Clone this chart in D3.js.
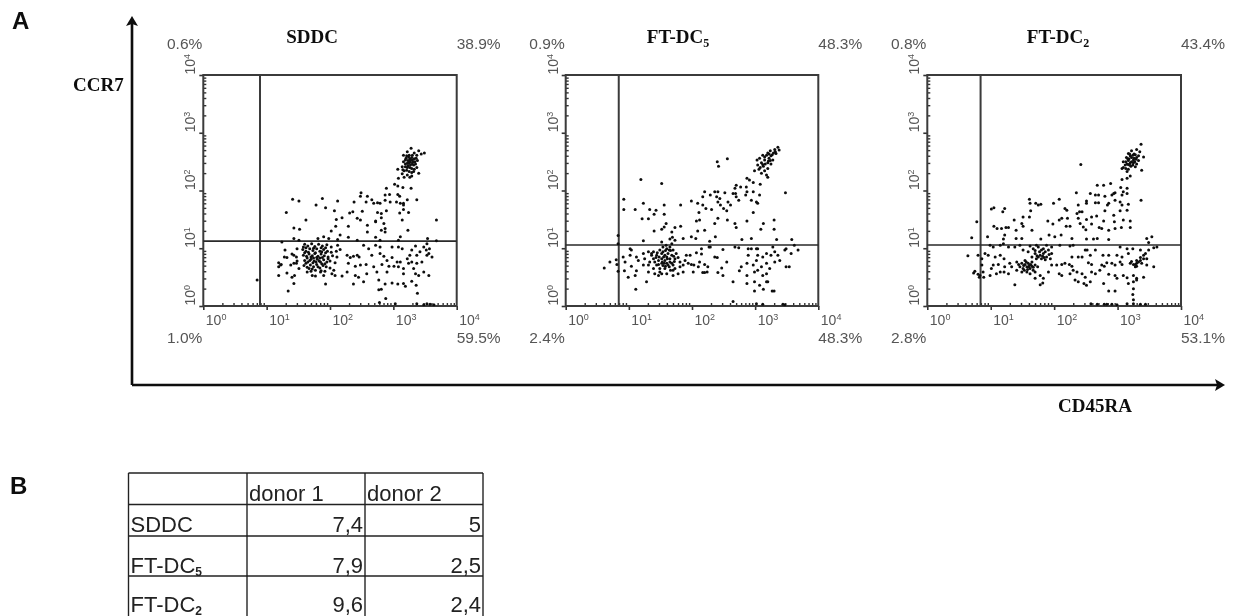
<!DOCTYPE html>
<html>
<head>
<meta charset="utf-8">
<script src="https://cdn.jsdelivr.net/npm/d3@7"></script>
<style>
    html, body { margin: 0; padding: 0; background: #fff; overflow: hidden; }
    svg { display: block; }
    .pct { font: 15.5px "Liberation Sans", sans-serif; fill: #555; }
    .tickText { font: 14px "Liberation Sans", sans-serif; fill: #555; }
    .title { font: bold 19px "Liberation Serif", serif; fill: #111; }
    .panelLetter { font: bold 24px "Liberation Sans", sans-serif; fill: #111; }
    .cell { font: 22px "Liberation Sans", sans-serif; fill: #222; }
</style>
</head>
<body>
<svg id="chart" width="1233" height="616"></svg>
<script>
// Every event is [log10 CD45RA, log10 CCR7]
const sddcEvents = [
    [3.28,2.73],[3.40,2.69],[3.49,2.65],[3.22,2.67],[3.33,2.65],[3.16,2.61],[3.25,2.61],[3.37,2.61],[3.44,2.63],[3.20,2.56],
    [3.29,2.57],[3.36,2.56],[3.16,2.50],[3.23,2.52],[3.31,2.50],[3.38,2.52],[3.19,2.46],[3.27,2.44],[3.35,2.46],[3.14,2.41],
    [3.22,2.40],[3.29,2.38],[3.37,2.40],[3.07,2.37],[3.17,2.34],[3.25,2.33],[3.32,2.33],[3.40,2.30],[3.14,2.29],[3.22,2.27],
    [3.29,2.25],[3.08,2.21],[3.17,2.23],[3.26,2.23],[3.24,2.58],[3.27,2.53],[3.32,2.44],[3.22,2.47],
    [3.21,2.60],[3.30,2.61],[3.26,2.55],[3.33,2.55],[3.19,2.53],[3.27,2.49],[3.34,2.50],[3.24,2.47],[3.30,2.46],[3.19,2.41],
    [3.26,2.40],[3.33,2.37],[3.21,2.35],[3.29,2.31],[3.15,2.36],[3.23,2.43],[3.30,2.53],[3.25,2.51],
    [2.49,1.96],[2.59,1.90],[2.48,1.90],[2.66,1.84],[2.38,1.80],[2.57,1.80],[2.69,1.78],[2.75,1.79],[2.79,1.78],[2.87,1.83],
    [2.95,1.80],[3.05,1.80],[3.11,1.78],[3.16,1.78],[3.22,1.84],[3.37,1.84],[2.89,2.04],[3.02,2.11],[3.07,2.08],[3.15,2.05],
    [3.28,2.04],[2.87,1.92],[2.94,1.93],[3.07,1.93],[3.10,1.90],[3.16,1.75],[1.41,1.85],[1.51,1.82],[1.88,1.86],[2.12,1.82],
    [1.78,1.75],[1.93,1.70],[1.31,1.62],[2.07,1.65],[2.31,1.61],[2.36,1.63],[2.51,1.64],[2.75,1.62],[2.81,1.60],[2.89,1.65],
    [3.10,1.61],[3.16,1.67],[3.24,1.62],[1.62,1.49],[2.10,1.50],[2.19,1.53],[2.43,1.52],[2.48,1.49],[2.72,1.46],[2.81,1.53],
    [2.85,1.43],[3.14,1.49],[3.68,1.49],[2.29,1.38],[2.59,1.40],[2.72,1.47],[2.87,1.34],[1.43,1.35],[1.52,1.33],[2.09,1.38],
    [2.02,1.30],[2.59,1.28],[2.81,1.31],[2.87,1.28],[3.23,1.31],[3.11,1.20],[1.43,1.17],[1.51,1.14],[1.81,1.17],[1.90,1.20],
    [1.98,1.17],[2.16,1.23],[2.12,1.15],[2.29,1.19],[2.43,1.14],[2.72,1.19],[2.79,1.14],[3.08,1.14],[3.54,1.17],[3.68,1.13],
    [1.24,1.11],[3.53,1.08],
    [1.19,.75],[1.23,.72],[1.19,.68],[1.22,.71],[1.29,.97],[1.28,.85],[1.32,.84],[1.40,.90],[1.43,.88],[1.47,.85],
    [1.38,.71],[1.43,.74],[1.48,.78],[1.47,.74],[1.19,.53],[1.32,.57],[1.40,.50],[1.44,.53],[1.43,.39],[1.34,.26],
    [1.51,.65],[1.64,.59],[1.72,.53],[1.77,.52],[1.85,.59],[1.93,.38],[1.90,.53],[2.03,.56],[2.08,.53],[2.19,.52],
    [1.58,1.02],[1.48,.99],[.85,.45],
    [1.60,1.07],[1.65,1.04],[1.71,1.08],[1.76,1.03],[1.82,1.07],[1.88,1.04],[1.95,1.06],[2.02,1.02],[2.12,1.05],[2.16,.98],
    [1.57,.98],[1.62,.95],[1.68,.99],[1.73,.96],[1.79,.99],[1.84,.95],[1.90,.98],[1.96,.95],[2.02,.93],[2.10,.95],
    [1.58,.88],[1.63,.86],[1.67,.90],[1.72,.87],[1.76,.91],[1.81,.86],[1.86,.90],[1.91,.87],[1.97,.85],[2.04,.87],[2.11,.85],
    [1.60,.79],[1.65,.76],[1.70,.81],[1.75,.78],[1.80,.81],[1.85,.76],[1.90,.80],[1.95,.76],[2.00,.78],[2.08,.75],
    [1.59,.70],[1.64,.67],[1.69,.71],[1.74,.68],[1.79,.72],[1.84,.66],[1.89,.70],[1.94,.68],[2.00,.66],
    [1.70,.60],[1.77,.62],[1.86,.61],[1.92,.60],[2.06,.62],
    [1.62,1.01],[1.74,1.00],[1.86,1.01],[1.93,1.01],[1.66,.93],[1.77,.92],[1.87,.94],[1.93,.92],[1.60,.92],[1.70,.85],
    [1.74,.83],[1.79,.84],[1.84,.83],[1.88,.84],[1.64,.83],[1.68,.79],[1.73,.75],[1.78,.76],[1.83,.78],[1.87,.73],
    [1.62,.74],[1.72,.64],[1.81,.68],[1.67,.65],[1.92,.73],[1.97,.82],
    [2.27,.88],[2.32,.84],[2.37,.86],[2.43,.88],[2.46,.85],[2.29,.74],[2.40,.69],[2.48,.71],[2.27,.59],[2.40,.53],
    [2.45,.50],[2.37,.38],[2.53,.42],[2.58,.56],[2.57,.72],[2.69,.68],[2.53,1.05],[2.61,.99],[2.66,.88],[2.79,.91],
    [2.85,.86],[2.90,.79],[2.82,.72],[2.98,.84],[3.06,.76],[3.11,.76],[3.01,.69],[3.08,.68],[3.16,.65],[2.93,.69],
    [2.90,.59],[2.74,.59],[2.77,.45],[2.87,.38],[2.98,.40],[3.07,.38],[3.16,.39],[3.19,.34],[3.29,.43],[3.36,.36],
    [3.38,.22],[2.77,.28],[2.81,.29],[2.88,.13],[2.78,.06],[3.03,.04],[3.37,.04],[3.53,.04],[3.48,.02],[3.58,.03],
    [3.64,.02],[3.08,1.02],[3.14,.99],[3.22,.82],[3.26,.88],[3.29,.97],[3.35,1.04],[3.24,.74],[3.29,.76],[3.37,.88],
    [3.42,.94],[3.48,1.02],[3.52,.97],[3.57,.99],[3.61,.85],[3.53,.88],[3.37,.74],[3.32,.65],[3.45,.76],[3.48,.59],
    [3.56,.53],[3.16,.56],[3.35,.56],[3.40,.53],[2.98,1.02],[2.72,1.05],[2.79,1.02],[3.56,.91]
];
const ftDc5Events = [
    [3.36,2.75],[3.31,2.71],[3.38,2.70],[3.24,2.69],[3.29,2.65],[3.33,2.64],[3.20,2.65],[3.18,2.61],[3.25,2.60],[3.12,2.61],
    [3.22,2.56],[3.28,2.53],[3.07,2.56],[3.15,2.53],[3.03,2.53],[3.10,2.48],[3.20,2.48],[3.25,2.46],[3.04,2.44],[3.13,2.42],
    [3.20,2.38],[3.08,2.40],[2.99,2.34],[3.15,2.34],[3.10,2.30],[3.18,2.27],[3.20,2.23],[3.06,2.37],[3.32,2.67],[3.24,2.52],
    [3.22,2.63],[3.27,2.62],[3.15,2.58],[3.21,2.51],[3.16,2.46],[3.12,2.45],
    [2.40,2.50],[2.56,2.55],[2.42,2.42],[1.19,2.19],[1.52,2.12],[2.87,2.21],[2.91,2.18],[2.97,2.14],[3.08,2.11],[2.70,2.09],
    [2.68,2.04],[2.77,2.06],[2.86,2.06],[2.20,1.98],[2.36,1.98],[2.41,1.98],[2.52,1.96],[2.69,1.95],[2.65,1.95],[2.87,1.98],
    [2.85,1.92],[2.97,1.98],[3.07,1.92],[3.48,1.96],[2.17,1.89],[2.29,1.92],[2.39,1.89],[2.44,1.86],[2.70,1.89],[2.74,1.83],
    [2.94,1.83],[3.02,1.80],[3.04,1.78],[1.99,1.82],[2.09,1.78],[2.17,1.75],[2.22,1.69],[2.31,1.67],[2.41,1.80],[2.45,1.75],
    [2.57,1.80],[2.61,1.75],[2.50,1.69],[2.55,1.65],[2.97,1.62],[.92,1.85],[.92,1.67],[1.23,1.78],[1.10,1.67],[1.33,1.67],
    [1.43,1.66],[1.40,1.59],[1.56,1.75],[1.56,1.59],[1.82,1.75],[2.11,1.62],[1.21,1.51],[1.31,1.51],[1.59,1.43],[1.56,1.37],
    [1.73,1.36],[1.82,1.38],[2.07,1.47],[2.12,1.49],[2.36,1.43],[2.41,1.52],[2.56,1.49],[2.68,1.43],[2.70,1.36],[2.87,1.47],
    [3.13,1.43],[3.30,1.49],[3.09,1.33],[3.30,1.33],[1.40,1.30],[1.68,1.28],[2.09,1.30],[2.20,1.31],[1.52,1.33],[1.69,1.19],
    [1.73,1.14],[1.99,1.20],[2.06,1.17],[2.37,1.20],[2.28,1.12],[2.79,1.15],[2.94,1.17],[3.34,1.15],[3.58,1.15],[1.23,1.13],
    [1.52,1.11],[1.65,1.16],[1.86,1.17],
    [1.02,.99],[1.04,.97],[.91,.85],[.94,.76],[1.02,.88],[1.12,.85],[1.15,.79],[1.04,.69],[.93,.61],[1.10,.53],
    [.99,.50],[1.12,.61],[1.23,.91],[1.25,.82],[1.31,.71],[1.23,.71],[1.28,.42],[1.11,.29],[1.39,.94],[1.41,.76],
    [1.41,.56],[1.47,.53],[1.52,.56],[1.70,.53],[1.78,.56],[1.86,.59],
    [.61,.66],[.70,.76],[.80,.80],[.81,.72],[.83,.60],[.83,1.08],[.83,1.22],
    [1.31,.94],[1.36,.91],[1.44,.88],[1.49,.97],[1.54,1.02],[1.60,.99],[1.65,1.02],[1.70,.97],[1.52,.91],[1.57,.88],
    [1.62,.91],[1.68,.88],[1.75,.91],[1.39,.82],[1.47,.79],[1.52,.82],[1.57,.79],[1.65,.82],[1.73,.82],[1.78,.84],
    [1.91,.88],[1.97,.88],[1.33,.76],[1.44,.71],[1.52,.74],[1.60,.74],[1.65,.76],[1.70,.71],[1.81,.76],[1.89,.79],
    [1.39,.65],[1.49,.65],[1.57,.65],[1.64,.68],[1.73,.65],[1.86,.71],[1.94,.74],[1.31,.59],[1.49,.59],[1.60,.56],
    [1.70,.62],[1.81,.68],[1.54,.94],[1.61,.82],[1.48,.85],[1.53,.76],[1.43,.84],[1.36,.88],[1.68,1.08],[1.64,.97],
    [1.58,.96],[1.66,.96],[1.55,.85],[1.60,.85],[1.71,.86],[1.56,.74],[1.62,.71],[1.68,.74],[1.58,.69],[1.47,.72],
    [1.54,.70],[1.45,.92],[1.59,1.05],[1.72,.77],[1.66,.62],
    [2.07,.92],[2.15,.90],[2.36,.85],[2.40,.84],[1.99,.72],[2.03,.71],[2.12,.76],[2.20,.72],[2.25,.68],[2.10,.68],
    [2.17,.58],[2.20,.58],[2.02,.59],[2.24,.59],[2.41,.58],[2.49,.53],[2.47,.66],[2.55,.76],[2.75,.61],[2.78,.68],
    [2.15,.99],[2.27,1.02],[2.29,1.02],[2.49,.98],[2.68,1.02],[2.74,1.01],[2.89,.99],[3.02,.99],[2.89,.88],[2.87,.74],
    [2.87,.53],[2.87,.39],[2.65,.42],[2.65,.08],[2.99,.42],[3.07,.36],[3.18,.42],[3.20,.42],[2.99,.26],[3.13,.29],
    [3.27,.26],[3.30,.26],[3.02,.04],[3.12,.03],[3.44,.03],[3.47,.02],[2.97,.71],[3.02,.79],[3.04,.88],[3.12,.85],
    [3.18,.91],[3.25,.88],[3.31,.94],[3.36,.88],[3.47,.97],[3.57,.91],[3.62,1.05],[3.68,.97],[3.49,.99],[3.04,.62],
    [3.10,.68],[3.18,.74],[3.23,.65],[3.31,.76],[3.39,.79],[3.49,.68],[3.54,.68],[3.18,.56],[3.12,.53],[2.99,.59],
    [3.28,1.02],[3.04,.99],[2.94,.99]
];
const ftDc2Events = [
    [3.37,2.80],[3.30,2.71],[3.22,2.69],[3.35,2.67],[3.17,2.64],[3.26,2.63],[3.41,2.58],[3.33,2.60],[3.14,2.57],[3.22,2.57],
    [3.29,2.54],[3.17,2.52],[3.09,2.50],[3.25,2.48],[3.33,2.52],[3.15,2.46],[3.21,2.42],[3.09,2.40],[3.28,2.41],[3.17,2.37],
    [3.38,2.35],[3.07,2.38],[3.15,2.33],[3.20,2.25],[3.15,2.21],[3.07,2.19],[3.24,2.61],[3.20,2.48],[3.26,2.56],[3.30,2.46],
    [3.13,2.38],[3.19,2.63],
    [3.20,2.60],[3.28,2.62],[3.18,2.55],[3.25,2.53],[3.30,2.57],[3.13,2.50],[3.19,2.44],[3.24,2.44],[3.12,2.44],[3.22,2.50],
    [3.27,2.50],[3.17,2.45],[3.16,2.55],
    [2.42,2.45],[2.68,2.09],[2.78,2.09],[2.89,2.12],[3.05,2.05],[3.15,2.04],[3.09,1.98],[2.96,1.96],[2.35,1.96],[2.57,1.95],
    [2.65,1.92],[2.70,1.92],[2.80,1.90],[2.91,1.92],[2.94,1.95],[3.07,1.92],[3.15,1.95],[1.61,1.85],[1.62,1.78],[2.08,1.85],
    [1.99,1.78],[1.71,1.78],[1.75,1.75],[1.79,1.76],[2.51,1.82],[2.51,1.78],[2.65,1.79],[2.70,1.79],[2.86,1.78],[2.84,1.75],
    [2.96,1.83],[3.04,1.80],[3.07,1.75],[3.17,1.76],[3.37,1.83],[1.01,1.68],[1.05,1.70],[1.19,1.63],[1.22,1.69],[1.63,1.65],
    [1.51,1.54],[1.61,1.54],[1.37,1.49],[1.40,1.31],[2.17,1.69],[2.20,1.66],[2.21,1.52],[2.38,1.75],[2.40,1.63],[2.44,1.63],
    [2.36,1.60],[2.38,1.52],[2.59,1.54],[2.67,1.56],[2.80,1.65],[2.94,1.57],[3.04,1.65],[3.15,1.66],[2.95,1.46],[3.09,1.49],
    [3.20,1.47],[2.78,1.47],[2.51,1.50],[2.41,1.43],[2.46,1.37],[2.50,1.32],[2.59,1.42],[2.71,1.36],[2.75,1.34],[2.86,1.31],
    [2.96,1.34],[3.06,1.36],[3.20,1.36],[1.90,1.47],[1.98,1.42],[2.08,1.49],[2.12,1.52],[2.19,1.38],[2.25,1.38],[1.49,1.43],
    [1.51,1.38],[1.05,1.38],[1.10,1.34],[1.17,1.34],[1.24,1.36],[1.28,1.36],[1.65,1.31],[.95,1.20],[1.22,1.23],[1.20,1.16],
    [1.40,1.17],[1.49,1.17],[1.79,1.16],[1.92,1.23],[2.01,1.20],[2.11,1.23],[2.28,1.17],[2.51,1.16],[2.62,1.16],[2.68,1.17],
    [2.86,1.15],[3.46,1.17],[3.54,1.20],[3.49,1.10],
    [.78,1.46],[.70,1.18],[.64,.87],[.80,.88],[.73,.57],[.75,.60],[.80,.55],[.82,.50],
    [.99,1.05],[1.04,1.02],[1.15,1.05],[1.20,1.08],[1.28,1.02],[1.38,1.02],[1.46,1.05],[1.62,1.04],[1.72,1.05],[1.88,1.05],
    [1.96,1.02],[2.09,1.05],[2.25,1.04],[2.30,1.05],[.91,.91],[.86,.82],[.96,.88],[1.07,.85],[1.15,.88],[1.21,.82],
    [.86,.71],[.88,.59],[.83,.53],[.89,.50],[.99,.53],[1.04,.71],[1.01,.65],[1.12,.72],[1.15,.59],[1.22,.68],
    [1.30,.74],[1.33,.68],[1.09,.56],[1.21,.59],[1.28,.56],[1.38,.37],
    [1.51,.97],[1.59,.94],[1.67,.99],[1.75,1.02],[1.83,.99],[1.91,.97],[1.96,.91],[1.70,.91],[1.78,.88],[1.83,.91],
    [1.88,.85],[1.65,.85],[1.72,.82],[1.80,.82],[1.94,.82],[1.77,.94],[1.80,.97],[1.84,.84],
    [1.73,.87],[1.86,.94],[1.70,.96],[1.92,.89],[1.75,.85],[1.82,.86],[1.86,.80],
    [1.41,.76],[1.49,.74],[1.54,.79],[1.59,.74],[1.65,.76],[1.70,.71],[1.46,.68],[1.51,.65],[1.57,.68],[1.62,.65],
    [1.67,.62],[1.74,.68],[1.41,.62],[1.49,.59],[1.57,.59],[1.62,.56],[1.70,.59],[1.61,.71],[1.65,.69],[1.54,.72],
    [1.44,.72],[1.58,.63],[1.53,.62],[1.63,.72],[1.60,.68],[1.52,.70],[1.67,.67],[1.56,.76],
    [1.78,.53],[1.83,.48],[1.78,.37],[1.82,.40],[1.70,.48],[1.96,.71],[1.91,.59],[2.04,.71],[2.12,.72],[2.08,.56],
    [2.12,.53],[2.17,.74],[2.24,.72],[2.28,.69],[2.30,.62],[2.36,.59],[2.25,.56],[2.33,.45],[2.38,.42],[2.44,.56],
    [2.49,.50],[2.47,.39],[2.51,.36],[2.57,.42],[2.59,.59],[2.65,.56],[2.38,.85],[2.44,.85],[2.28,.85],[2.49,.97],
    [2.52,.97],[2.57,.88],[2.65,.97],[2.54,.75],[2.59,.72],[2.72,.62],[2.75,.71],[2.79,.69],[2.83,.75],[2.91,.74],
    [2.96,.71],[3.04,.76],[3.07,.72],[2.77,.88],[2.86,.88],[2.99,.88],[3.07,.85],[3.17,.91],[3.24,.99],[3.36,.97],
    [3.41,.88],[3.46,.82],[3.44,.91],[3.49,.97],[3.57,1.01],[3.62,1.02],[3.20,.74],[3.25,.72],[3.28,.68],[3.30,.74],
    [3.36,.79],[3.41,.82],[3.57,.68],[3.46,.71],[2.86,.55],[2.96,.53],[2.99,.48],[3.09,.53],[3.15,.49],[3.25,.53],
    [3.28,.72],[3.33,.76],[3.30,.79],[3.36,.84],[3.38,.74],[3.22,.77],[3.30,.69],
    [3.30,.48],[3.41,.50],[2.78,.39],[2.86,.26],[2.96,.26],[3.17,.39],[3.25,.42],[3.30,.45],[3.25,.30],[3.24,.20],
    [3.25,.11],[2.58,.04],[2.68,.03],[2.79,.03],[2.83,.03],[2.91,.03],[2.99,.02],[3.15,.04],[3.25,.04],[3.36,.03],
    [3.44,.03],[3.04,1.02],[3.15,.99]
];

const decades = [0, 1, 2, 3, 4];
const panelNames = ["SDDC", "FT-DC", "FT-DC"];
const panelSubs = ["", "5", "2"];
const panelEvents = [sddcEvents, ftDc5Events, ftDc2Events];
// Quadrant gates in log10 units
const gateX = [0.895, 0.84, 0.84];
const gateY = [1.125, 1.056, 1.056];
// Quadrant percentages: upper left, upper right, lower left, lower right
const upperLeft = ["0.6%", "0.9%", "0.8%"];
const upperRight = ["38.9%", "48.3%", "43.4%"];
const lowerLeft = ["1.0%", "2.4%", "2.8%"];
const lowerRight = ["59.5%", "48.3%", "53.1%"];

const tableHeader = ["", "donor 1", "donor 2"];
const tableRows = ["SDDC", "FT-DC", "FT-DC"];
const tableSubs = ["", "5", "2"];
const donor1 = ["7,4", "7,9", "9,6"];
const donor2 = ["5", "2,5", "2,4"];

// Panel frames, left and right edge in px
const panelLeft = [203.3, 565.7, 927.3];
const panelRight = [456.7, 818.3, 1181];
const titleCenter = [312, 678, 1058];
const plotTop = 75, plotBottom = 306;

const svg = d3.select("#chart");
const defs = svg.append("defs");
defs.append("filter").attr("id", "soft")
    .attr("filterUnits", "userSpaceOnUse")
    .attr("x", 0).attr("y", 0)
    .attr("width", 1233).attr("height", 616)
    .append("feGaussianBlur").attr("stdDeviation", 0.6);
const root = svg.append("g").attr("filter", "url(#soft)");

/*
    Function that writes a power of ten as a base with a raised exponent
*/
function writePower(textNode, exponent) {
    textNode.text("10");
    textNode.append("tspan").attr("dy", -5).attr("font-size", 9).text(exponent);
}

/*
    Function that draws one dot plot panel: log axes, frame, gates, events and
    the percentages of the four quadrants
*/
function drawPanel(i) {
    const x = d3.scaleLinear().domain([0, 4]).range([panelLeft[i], panelRight[i]]);
    const y = d3.scaleLinear().domain([0, 4]).range([plotBottom, plotTop]);
    const g = root.append("g");

    // Minor ticks of the log axes, they point into the plot
    const minorValues = [];
    d3.range(0, 4).forEach(d => d3.range(2, 10).forEach(m => minorValues.push(d + Math.log10(m))));

    g.append("g").attr("transform", `translate(0,${plotBottom})`)
        .call(d3.axisBottom(x).tickValues(minorValues).tickSize(-3).tickFormat(""))
        .call(a => a.select(".domain").remove())
        .selectAll("line").attr("stroke", "#333").attr("stroke-width", 1.4);
    g.append("g").attr("transform", `translate(${panelLeft[i]},0)`)
        .call(d3.axisLeft(y).tickValues(minorValues).tickSize(-3).tickFormat(""))
        .call(a => a.select(".domain").remove())
        .selectAll("line").attr("stroke", "#333").attr("stroke-width", 1.4);

    // Main ticks and their labels
    const xAxis = g.append("g").attr("transform", `translate(0,${plotBottom})`)
        .call(d3.axisBottom(x).tickValues(decades).tickSize(4));
    xAxis.select(".domain").remove();
    xAxis.selectAll("line").attr("stroke", "#333").attr("stroke-width", 1.6);
    xAxis.selectAll("text")
        .attr("class", "tickText").attr("text-anchor", "start")
        .attr("x", 2).attr("y", 19).attr("dy", null)
        .each(function (d) { writePower(d3.select(this), d); });

    const yAxis = g.append("g").attr("transform", `translate(${panelLeft[i]},0)`)
        .call(d3.axisLeft(y).tickValues(decades).tickSize(4));
    yAxis.select(".domain").remove();
    yAxis.selectAll("line").attr("stroke", "#333").attr("stroke-width", 1.6);
    yAxis.selectAll("text")
        .attr("class", "tickText").attr("text-anchor", "start")
        .attr("x", null).attr("dy", null).attr("y", null)
        .attr("transform", "translate(-8,-1) rotate(-90)")
        .each(function (d) { writePower(d3.select(this), d); });

    // Frame and quadrant gates
    g.append("rect")
        .attr("x", x(0)).attr("y", y(4))
        .attr("width", x(4) - x(0)).attr("height", y(0) - y(4))
        .attr("fill", "none").attr("stroke", "#3a3a3a").attr("stroke-width", 2);
    g.append("line")
        .attr("x1", x(gateX[i])).attr("x2", x(gateX[i]))
        .attr("y1", y(0)).attr("y2", y(4))
        .attr("stroke", "#3a3a3a").attr("stroke-width", 2);
    g.append("line")
        .attr("x1", x(0)).attr("x2", x(4))
        .attr("y1", y(gateY[i])).attr("y2", y(gateY[i]))
        .attr("stroke", "#2a2a2a").attr("stroke-width", 1.7);

    g.append("g").selectAll("circle")
        .data(panelEvents[i])
        .enter()
        .append("circle")
        .attr("cx", d => x(d[0]))
        .attr("cy", d => y(d[1]))
        .attr("r", 1.5)
        .attr("fill", "#111");

    // Quadrant percentages
    [[upperLeft, 49, "end"], [upperRight, 49, "start"], [lowerLeft, 343, "end"], [lowerRight, 343, "start"]]
        .forEach(([labels, baseline, anchor]) => {
            g.append("text").attr("class", "pct")
                .attr("x", anchor == "end" ? x(0) - 1 : x(4))
                .attr("y", baseline)
                .attr("text-anchor", anchor)
                .text(labels[i]);
        });

    // Panel title, subscript if there is any
    const title = g.append("text").attr("class", "title")
        .attr("x", titleCenter[i])
        .attr("y", 43)
        .attr("text-anchor", "middle")
        .text(panelNames[i]);
    if (panelSubs[i])
        title.append("tspan").attr("dy", 4).attr("font-size", 12).text(panelSubs[i]);
}

/*
    Function that draws the CCR7 and CD45RA arrows and the panel letters
*/
function drawAxesArrows() {
    const g = root.append("g");
    g.append("path").attr("d", "M132,385V20").attr("stroke", "#111").attr("stroke-width", 2.6).attr("fill", "none");
    g.append("path").attr("d", "M132,385H1221").attr("stroke", "#111").attr("stroke-width", 2.6).attr("fill", "none");
    g.append("path").attr("d", "M132,16L138,26L132,24L126,26Z").attr("fill", "#111");
    g.append("path").attr("d", "M1225,385L1215,379L1217,385L1215,391Z").attr("fill", "#111");

    g.append("text").attr("class", "title").attr("x", 73).attr("y", 91).text("CCR7");
    g.append("text").attr("class", "title").attr("x", 1132).attr("y", 412)
        .attr("text-anchor", "end").text("CD45RA");
    g.append("text").attr("class", "panelLetter").attr("x", 12).attr("y", 29).text("A");
    g.append("text").attr("class", "panelLetter").attr("x", 10).attr("y", 494).text("B");
}

/*
    Function that draws table B. The page cuts the last row, so it has no
    bottom line
*/
function drawTable() {
    const g = root.append("g");
    const colEdges = [128.5, 247, 365, 483];
    const rowEdges = [473, 504.5, 536, 576];
    const baselines = [500.5, 532, 572.5, 612];

    rowEdges.forEach(r => g.append("line")
        .attr("x1", colEdges[0]).attr("x2", colEdges[3]).attr("y1", r).attr("y2", r)
        .attr("stroke", "#222").attr("stroke-width", 1.4));
    colEdges.forEach(c => g.append("line")
        .attr("x1", c).attr("x2", c).attr("y1", rowEdges[0]).attr("y2", 616)
        .attr("stroke", "#222").attr("stroke-width", 1.4));

    tableHeader.forEach((label, i) => {
        g.append("text").attr("class", "cell")
            .attr("x", colEdges[i] + 2).attr("y", baselines[0]).text(label);
    });
    tableRows.forEach((label, i) => {
        const cell = g.append("text").attr("class", "cell")
            .attr("x", colEdges[0] + 2).attr("y", baselines[i + 1]).text(label);
        if (tableSubs[i])
            cell.append("tspan").attr("dy", 3).attr("font-size", 12)
                .attr("font-weight", "bold").text(tableSubs[i]);
        g.append("text").attr("class", "cell").attr("text-anchor", "end")
            .attr("x", colEdges[2] - 2).attr("y", baselines[i + 1]).text(donor1[i]);
        g.append("text").attr("class", "cell").attr("text-anchor", "end")
            .attr("x", colEdges[3] - 2).attr("y", baselines[i + 1]).text(donor2[i]);
    });
}

drawAxesArrows();
panelEvents.forEach((events, i) => drawPanel(i));
drawTable();
</script>
</body>
</html>
